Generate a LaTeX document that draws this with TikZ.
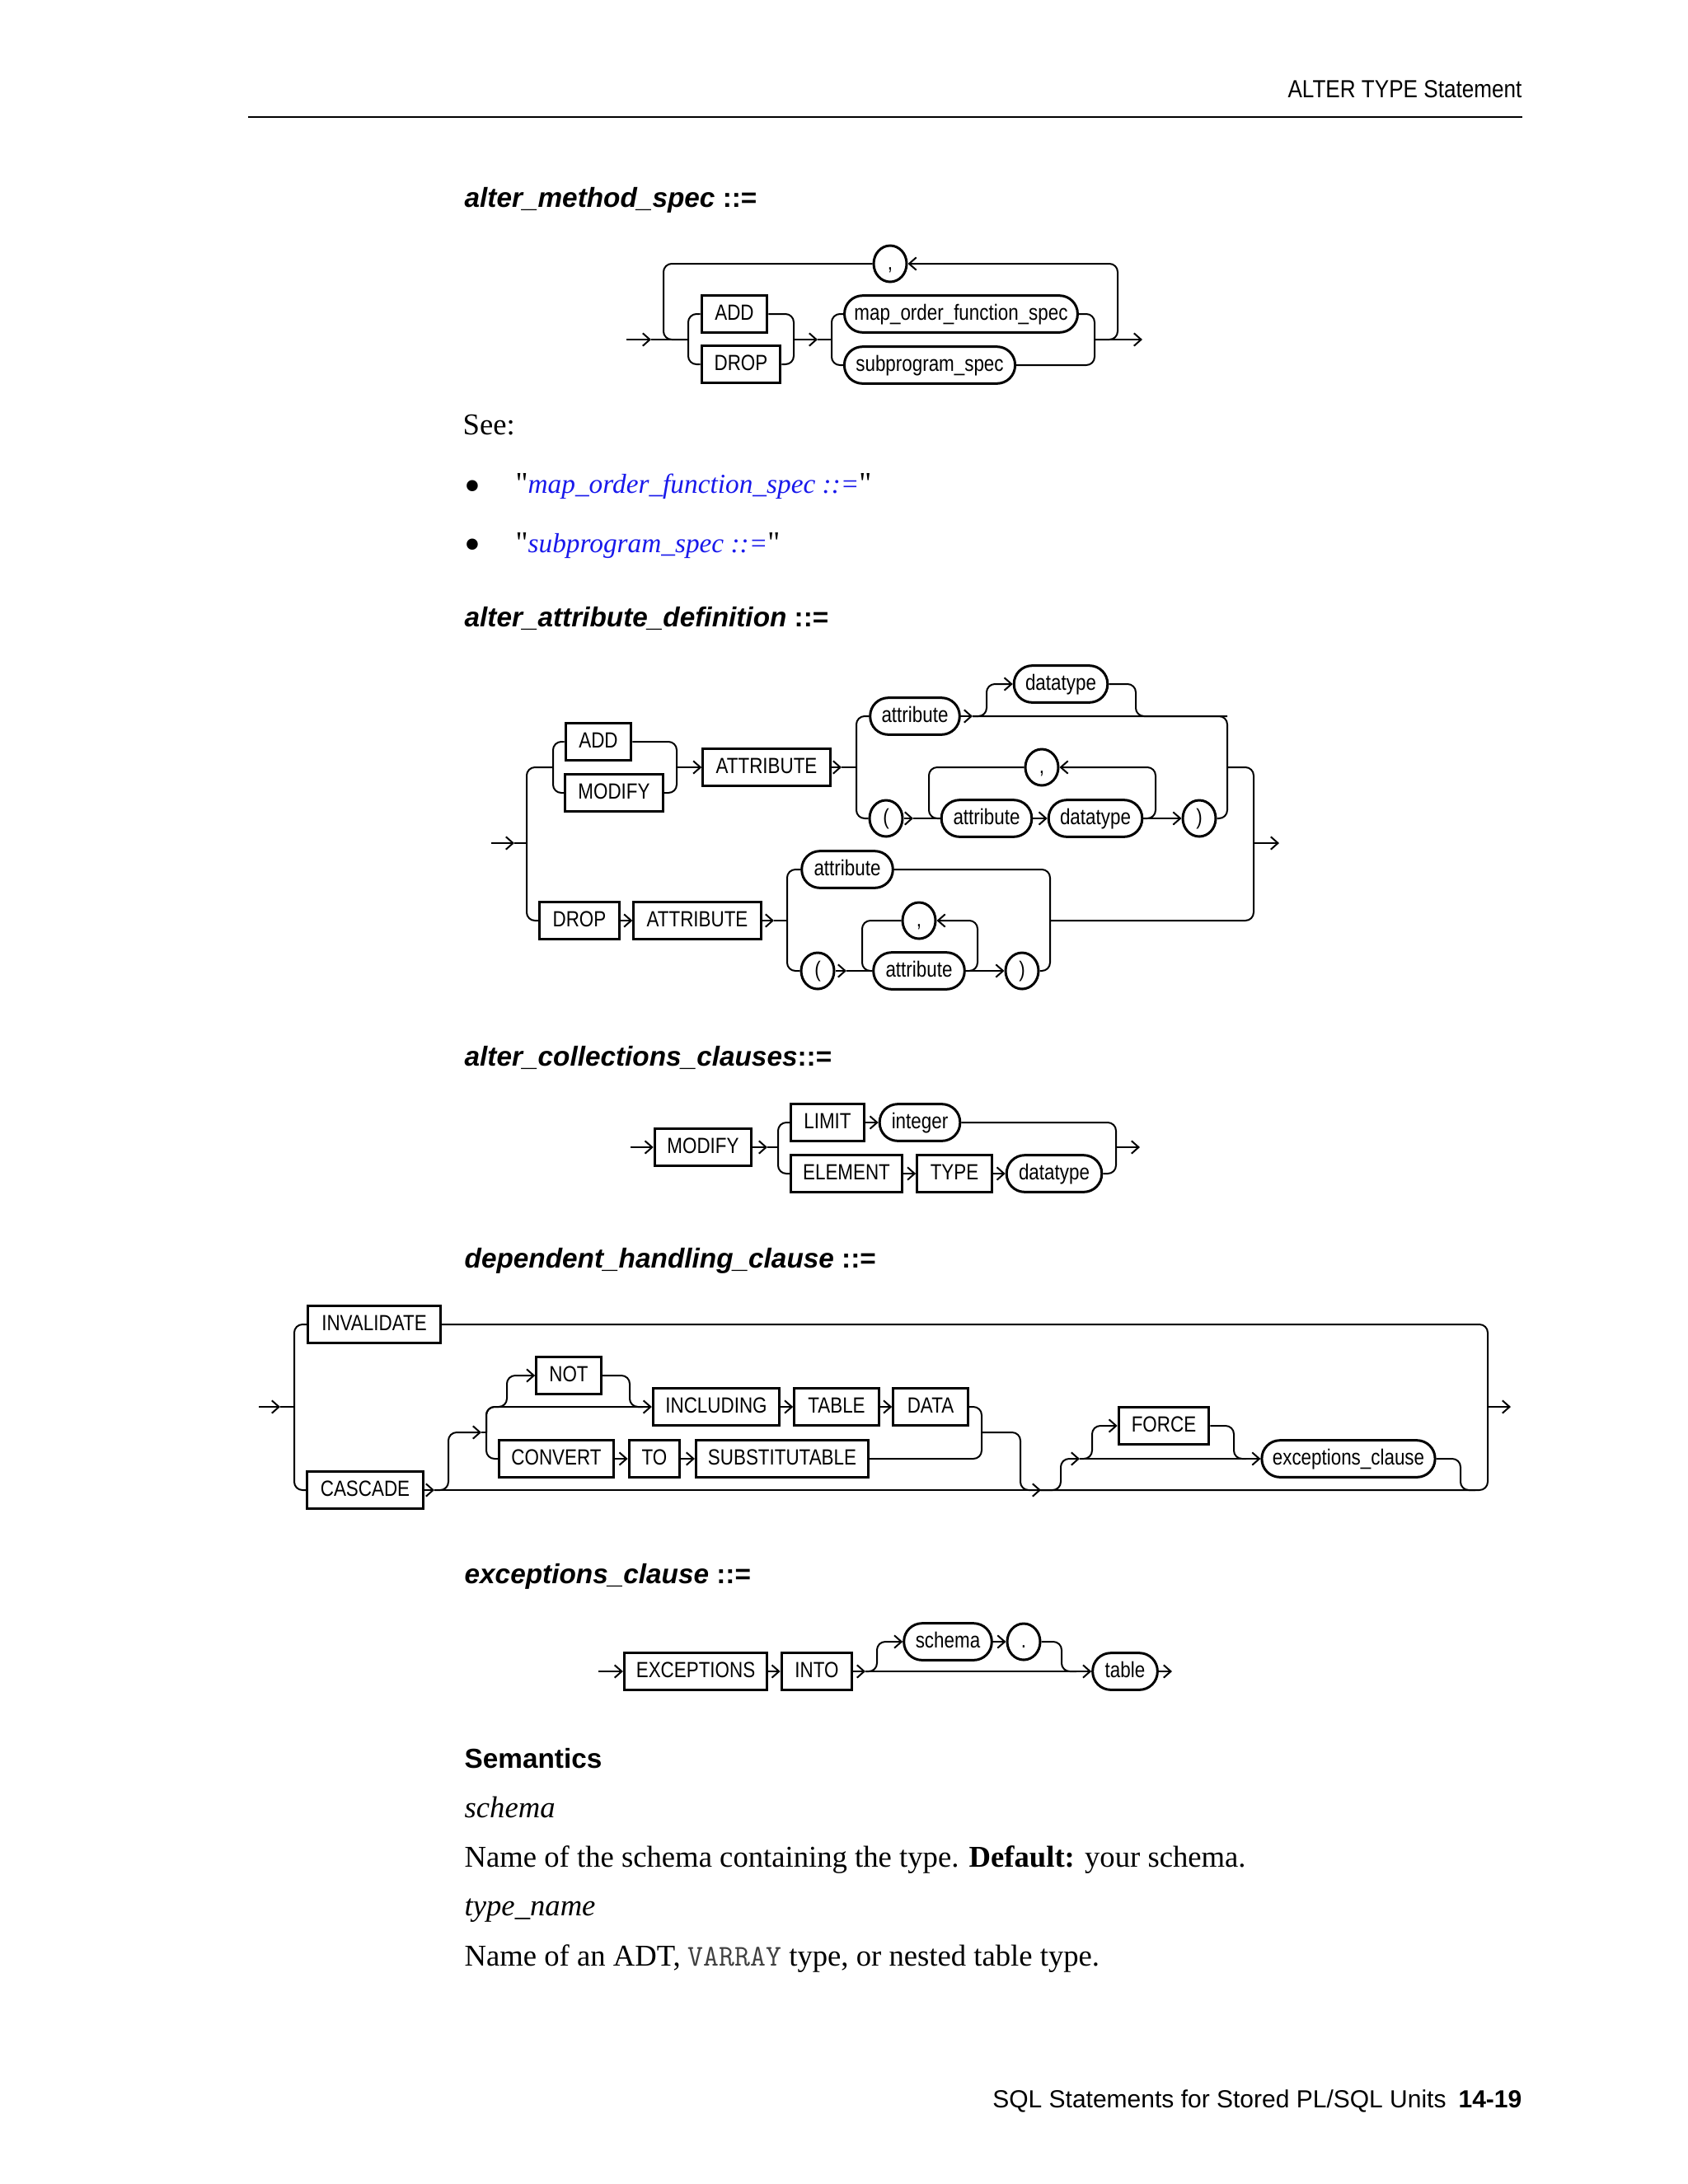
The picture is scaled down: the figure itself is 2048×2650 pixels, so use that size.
\documentclass[tikz,border=0pt]{standalone}
\usepackage{xcolor}
\usepackage{fontspec}
\setmainfont{Liberation Serif}
\setsansfont{Liberation Sans}
\newfontfamily\rrfont[FakeStretch=0.84]{Liberation Sans}
\newfontfamily\hdrfont[FakeStretch=0.87]{Liberation Sans}
\usepackage{tikz}
\usetikzlibrary{arrows.meta,shapes.geometric}
\definecolor{linkblue}{RGB}{25,25,235}
\newcommand{\rrtext}{\rrfont\fontsize{8}{9.6}\selectfont}
\tikzset{
  rr/.style={line width=0.6pt, rounded corners=3pt},
  rra/.style={rr, -{Straight Barb[length=2.6pt,width=4.6pt]}},
  kw/.style={draw, line width=0.9pt, rectangle, inner sep=0pt, minimum height=13.4pt, minimum width=#1*0.2988pt, text height=5.9pt, text depth=1.7pt, font=\rrtext},
  nt/.style={kw=#1, rounded corners=6.6pt},
  ch/.style={draw, line width=0.9pt, ellipse, inner sep=0pt, minimum width=12pt, minimum height=13.2pt, text height=5.9pt, text depth=1.7pt, font=\rrtext},
  hd/.style={anchor=base west, inner sep=0pt, font=\sffamily\bfseries\fontsize{10}{12}\selectfont},
  bd/.style={anchor=base west, inner sep=0pt, font=\fontsize{11}{13}\selectfont}
}

\begin{document}
\begin{tikzpicture}[x=0.010542cm, y=-0.010542cm]
\fill[white] (0,0) rectangle (2048,2650);

\node[anchor=base east, inner sep=0pt, font=\hdrfont\fontsize{9}{11}\selectfont] (hdr) at (1847,118) {ALTER TYPE Statement};
\draw[line width=0.5pt] (301,142) -- (1847,142);

\node[hd] (h-ms) at (563,251) {\textit{alter\_method\_spec} ::=};

\coordinate (ms-in) at (760,412);
\coordinate (ms-a1) at (790,412);
\coordinate (ms-l) at (805,412);
\coordinate (ms-b1) at (835,412);
\coordinate (ms-j1) at (963,412);
\coordinate (ms-a2) at (992,412);
\coordinate (ms-j2) at (1009,412);
\coordinate (ms-j3) at (1328,412);
\coordinate (ms-r) at (1356,412);
\coordinate (ms-out) at (1386,412);
\node[kw=80] (ms-add) at (891,381) {ADD};
\node[kw=96] (ms-drop) at (899,442) {DROP};
\node[nt=284] (ms-map) at (1166,381) {map\_order\_function\_spec};
\node[nt=208] (ms-sub) at (1128,443) {subprogram\_spec};
\node[ch] (ms-comma) at (1080,320) {,};
\draw[rra] (ms-in) -- (ms-a1);
\draw[rr] (ms-a1) -- (ms-b1);
\draw[rr] (ms-add.west) -| (ms-b1) |- (ms-drop.west);
\draw[rr] (ms-add.east) -| (ms-j1) |- (ms-drop.east);
\draw[rra] (ms-j1) -- (ms-a2);
\draw[rr] (ms-a2) -- (ms-j2);
\draw[rr] (ms-map.west) -| (ms-j2) |- (ms-sub.west);
\draw[rr] (ms-map.east) -| (ms-j3) |- (ms-sub.east);
\draw[rra] (ms-j3) -- (ms-out);
\draw[rra] (ms-j3) -- (ms-r) |- (ms-comma.east);
\draw[rr] (ms-comma.west) -| (ms-l) -- (ms-b1);

\node[bd] (see) at (561,527) {See:};
\node[inner sep=0pt, font=\fontsize{17}{17}\selectfont] (b1) at (573,596) {\textbullet};
\node[bd] (l1) at (625,598) {\textquotedbl\textcolor{linkblue}{\itshape\fontsize{10}{12}\selectfont map\_order\_function\_spec ::=}\textquotedbl};
\node[inner sep=0pt, font=\fontsize{17}{17}\selectfont] (b2) at (573,667) {\textbullet};
\node[bd] (l2) at (625,670) {\textquotedbl\textcolor{linkblue}{\itshape\fontsize{10}{12}\selectfont subprogram\_spec ::=}\textquotedbl};

\node[hd] (h-ad) at (563,760) {\textit{alter\_attribute\_definition} ::=};

\coordinate (ad-in) at (596,1023);
\coordinate (ad-a1) at (624,1023);
\coordinate (ad-l) at (639,1023);
\coordinate (ad-j1) at (671,931);
\coordinate (ad-j2) at (821,931);
\coordinate (ad-a2) at (1021,931);
\coordinate (ad-j3) at (1039,931);
\coordinate (ad-a3) at (1180,869);
\coordinate (ad-j4) at (1197,869);
\coordinate (ad-j5) at (1378,869);
\coordinate (ad-j6) at (1489,869);
\coordinate (ad-j7) at (1489,931);
\coordinate (ad-a4) at (1108,993);
\coordinate (ad-k1) at (1127,993);
\coordinate (ad-k2) at (1402,993);
\coordinate (ad-r) at (1521,1023);
\coordinate (ad-out) at (1552,1023);
\coordinate (ad-a5) at (939,1117);
\coordinate (ad-j10) at (955,1117);
\coordinate (ad-j9) at (1274,1117);
\coordinate (ad-a6) at (1027,1178);
\coordinate (ad-k3) at (1046,1178);
\coordinate (ad-k4) at (1186,1178);
\node[kw=80] (ad-add) at (726,900) {ADD};
\node[kw=119] (ad-mod) at (745,962) {MODIFY};
\node[kw=155] (ad-attr1) at (930,931) {ATTRIBUTE};
\node[nt=109] (ad-at2) at (1110,869) {attribute};
\node[nt=114] (ad-dt1) at (1287,830) {datatype};
\node[ch] (ad-lp1) at (1075,993) {(};
\node[ch] (ad-cm1) at (1264,931) {,};
\node[nt=110] (ad-at3) at (1197,993) {attribute};
\node[nt=114] (ad-dt2) at (1329,993) {datatype};
\node[ch] (ad-rp1) at (1455,993) {)};
\node[kw=97] (ad-drop) at (703,1117) {DROP};
\node[kw=155] (ad-attr2) at (846,1117) {ATTRIBUTE};
\node[nt=111] (ad-at4) at (1028,1055) {attribute};
\node[ch] (ad-lp2) at (992,1178) {(};
\node[ch] (ad-cm2) at (1115,1117) {,};
\node[nt=111] (ad-at5) at (1115,1178) {attribute};
\node[ch] (ad-rp2) at (1240,1178) {)};
\draw[rra] (ad-in) -- (ad-a1);
\draw[rr] (ad-a1) -- (ad-l);
\draw[rr] (ad-j1) -| (ad-l) |- (ad-drop.west);
\draw[rr] (ad-add.west) -| (ad-j1) |- (ad-mod.west);
\draw[rr] (ad-add.east) -| (ad-j2) |- (ad-mod.east);
\draw[rra] (ad-j2) -- (ad-attr1.west);
\draw[rra] (ad-attr1.east) -- (ad-a2);
\draw[rr] (ad-a2) -- (ad-j3);
\draw[rr] (ad-at2.west) -| (ad-j3) |- (ad-lp1.west);
\draw[rra] (ad-at2.east) -- (ad-a3);
\draw[rr] (ad-a3) -- (ad-j6) |- (ad-rp1.east);
\draw[rra] (ad-a3) -- (ad-j4) |- (ad-dt1.west);
\draw[rr] (ad-dt1.east) -| (ad-j5) -- (ad-j6);
\draw[rra] (ad-lp1.east) -- (ad-a4);
\draw[rr] (ad-a4) -- (ad-at3.west);
\draw[rra] (ad-at3.east) -- (ad-dt2.west);
\draw[rra] (ad-dt2.east) -- (ad-rp1.west);
\draw[rra] (ad-dt2.east) -- (ad-k2) |- (ad-cm1.east);
\draw[rr] (ad-cm1.west) -| (ad-k1) -- (ad-at3.west);
\draw[rr] (ad-j7) -| (ad-r) |- (ad-j9);
\draw[rra] (ad-r) -- (ad-out);
\draw[rra] (ad-drop.east) -- (ad-attr2.west);
\draw[rra] (ad-attr2.east) -- (ad-a5);
\draw[rr] (ad-a5) -- (ad-j10);
\draw[rr] (ad-at4.west) -| (ad-j10) |- (ad-lp2.west);
\draw[rr] (ad-at4.east) -| (ad-j9) |- (ad-rp2.east);
\draw[rra] (ad-lp2.east) -- (ad-a6);
\draw[rr] (ad-a6) -- (ad-at5.west);
\draw[rra] (ad-at5.east) -- (ad-rp2.west);
\draw[rra] (ad-at5.east) -- (ad-k4) |- (ad-cm2.east);
\draw[rr] (ad-cm2.west) -| (ad-k3) -- (ad-at5.west);

\node[hd] (h-cc) at (563,1293) {\textit{alter\_collections\_clauses}::=};

\coordinate (cc-in) at (765,1392);
\coordinate (cc-a1) at (931,1392);
\coordinate (cc-j1) at (944,1392);
\coordinate (cc-j2) at (1354,1392);
\coordinate (cc-out) at (1383,1392);
\node[kw=118] (cc-mod) at (853,1392) {MODIFY};
\node[kw=89] (cc-lim) at (1004,1362) {LIMIT};
\node[nt=98] (cc-int) at (1116,1362) {integer};
\node[kw=135] (cc-el) at (1027,1424) {ELEMENT};
\node[kw=91] (cc-ty) at (1158,1424) {TYPE};
\node[nt=116] (cc-dt) at (1279,1424) {datatype};
\draw[rra] (cc-in) -- (cc-mod.west);
\draw[rra] (cc-mod.east) -- (cc-a1);
\draw[rr] (cc-a1) -- (cc-j1);
\draw[rr] (cc-lim.west) -| (cc-j1) |- (cc-el.west);
\draw[rra] (cc-lim.east) -- (cc-int.west);
\draw[rra] (cc-el.east) -- (cc-ty.west);
\draw[rra] (cc-ty.east) -- (cc-dt.west);
\draw[rr] (cc-int.east) -| (cc-j2) |- (cc-dt.east);
\draw[rra] (cc-j2) -- (cc-out);

\node[hd] (h-dh) at (563,1538) {\textit{dependent\_handling\_clause} ::=};

\coordinate (dh-in) at (314,1707);
\coordinate (dh-a1) at (340,1707);
\coordinate (dh-l) at (357,1707);
\coordinate (dh-a2) at (527,1808);
\coordinate (dh-m1) at (544,1808);
\coordinate (dh-a3) at (584,1738);
\coordinate (dh-j1) at (590,1738);
\coordinate (dh-n1) at (615,1707);
\coordinate (dh-n2) at (764,1707);
\coordinate (dh-n3) at (780,1707);
\coordinate (dh-j2) at (1191,1738);
\coordinate (dh-m2) at (1238,1808);
\coordinate (dh-a4) at (1263,1808);
\coordinate (dh-m3) at (1287,1808);
\coordinate (dh-a5) at (1310,1770);
\coordinate (dh-f1) at (1325,1770);
\coordinate (dh-f2) at (1497,1770);
\coordinate (dh-f3) at (1512,1770);
\coordinate (dh-m4) at (1772,1808);
\coordinate (dh-m5) at (1790,1808);
\coordinate (dh-r) at (1805,1707);
\coordinate (dh-out) at (1833,1707);
\node[kw=162] (dh-inv) at (454,1607) {INVALIDATE};
\node[kw=141] (dh-cas) at (443,1808) {CASCADE};
\node[kw=79] (dh-not) at (690,1669) {NOT};
\node[kw=154] (dh-inc) at (869,1707) {INCLUDING};
\node[kw=103] (dh-tab) at (1015,1707) {TABLE};
\node[kw=91] (dh-data) at (1129,1707) {DATA};
\node[kw=140] (dh-conv) at (675,1770) {CONVERT};
\node[kw=62] (dh-to) at (794,1770) {TO};
\node[kw=210] (dh-sub) at (949,1770) {SUBSTITUTABLE};
\node[kw=110] (dh-force) at (1412,1730) {FORCE};
\node[nt=211] (dh-exc) at (1636,1770) {exceptions\_clause};
\draw[rra] (dh-in) -- (dh-a1);
\draw[rr] (dh-a1) -- (dh-l);
\draw[rr] (dh-inv.west) -| (dh-l) |- (dh-cas.west);
\draw[rr] (dh-inv.east) -| (dh-r);
\draw[rra] (dh-cas.east) -- (dh-a2);
\draw[rra] (dh-a2) -- (dh-m1) |- (dh-a3);
\draw[rr] (dh-a3) -- (dh-j1);
\draw[rra] (dh-j1) |- (dh-inc.west);
\draw[rr] (dh-j1) |- (dh-conv.west);
\draw[rra] (dh-j1) |- (dh-n1) |- (dh-not.west);
\draw[rr] (dh-not.east) -| (dh-n2) -- (dh-n3);
\draw[rra] (dh-inc.east) -- (dh-tab.west);
\draw[rra] (dh-tab.east) -- (dh-data.west);
\draw[rra] (dh-conv.east) -- (dh-to.west);
\draw[rra] (dh-to.east) -- (dh-sub.west);
\draw[rr] (dh-data.east) -| (dh-j2) |- (dh-sub.east);
\draw[rr] (dh-j2) -| (dh-m2) -- (dh-a4);
\draw[rra] (dh-a2) -- (dh-a4);
\draw[rr] (dh-a4) -| (dh-r);
\draw[rra] (dh-a4) -- (dh-m3) |- (dh-a5);
\draw[rra] (dh-a5) -- (dh-exc.west);
\draw[rra] (dh-a5) -- (dh-f1) |- (dh-force.west);
\draw[rr] (dh-force.east) -| (dh-f2) -- (dh-f3);
\draw[rr] (dh-exc.east) -| (dh-m4) -- (dh-m5);
\draw[rra] (dh-r) -- (dh-out);

\node[hd] (h-ex) at (563,1921) {\textit{exceptions\_clause} ::=};

\coordinate (ex-in) at (726,2028);
\coordinate (ex-a1) at (1050,2028);
\coordinate (ex-j1) at (1064,2028);
\coordinate (ex-j2) at (1288,2028);
\coordinate (ex-j3) at (1306,2028);
\coordinate (ex-out) at (1422,2028);
\node[kw=174] (ex-exc) at (844,2028) {EXCEPTIONS};
\node[kw=86] (ex-into) at (991,2028) {INTO};
\node[nt=107] (ex-sch) at (1150,1992) {schema};
\node[ch] (ex-dot) at (1242,1992) {.};
\node[nt=79] (ex-tab) at (1365,2028) {table};
\draw[rra] (ex-in) -- (ex-exc.west);
\draw[rra] (ex-exc.east) -- (ex-into.west);
\draw[rra] (ex-into.east) -- (ex-a1);
\draw[rra] (ex-a1) -- (ex-tab.west);
\draw[rra] (ex-a1) -- (ex-j1) |- (ex-sch.west);
\draw[rra] (ex-sch.east) -- (ex-dot.west);
\draw[rr] (ex-dot.east) -| (ex-j2) -- (ex-j3);
\draw[rra] (ex-tab.east) -- (ex-out);

\node[hd] (sem) at (563,2145) {Semantics};
\node[bd] (s1) at (563,2205) {\itshape schema};
\node[bd] (s2) at (563,2265) {Name of the schema containing the type. \textbf{Default:} your schema.};
\node[bd] (s3) at (563,2324) {\itshape type\_name};
\node[bd] (s4) at (563,2385) {Name of an ADT, {\ttfamily\fontsize{11}{13}\selectfont\color{black!75}VARRAY} type, or nested table type.};

\node[anchor=base east, inner sep=0pt, font=\sffamily\fontsize{9}{11}\selectfont] (ftr) at (1847,2557) {SQL Statements for Stored PL/SQL Units\enspace\textbf{14-19}};
\end{tikzpicture}
\end{document}
